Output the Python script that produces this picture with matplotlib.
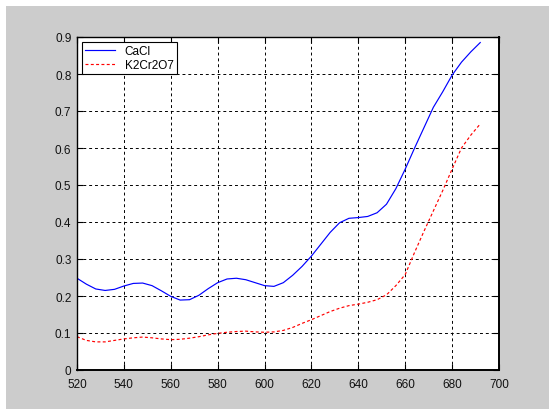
import matplotlib
matplotlib.use("Agg")
import matplotlib.pyplot as plt
from matplotlib.patches import Rectangle

plt.rcParams['font.family'] = ['Liberation Sans', 'DejaVu Sans']

# wavelength (nm)
wavelength = [520, 524, 528, 532, 536, 540, 544, 548, 552, 556, 560, 564, 568,
              572, 576, 580, 584, 588, 592, 596, 600, 604, 608, 612, 616, 620,
              624, 628, 632, 636, 640, 644, 648, 652, 656, 660, 664, 668, 672,
              676, 680, 684, 688, 692]

cacl = [0.248, 0.232, 0.219, 0.215, 0.218, 0.227, 0.234, 0.235, 0.228, 0.214,
        0.199, 0.189, 0.190, 0.202, 0.220, 0.236, 0.246, 0.248, 0.244, 0.236,
        0.228, 0.226, 0.236, 0.256, 0.280, 0.308, 0.340, 0.372, 0.398, 0.410,
        0.412, 0.415, 0.425, 0.448, 0.490, 0.543, 0.600, 0.655, 0.710, 0.752,
        0.797, 0.832, 0.860, 0.885]

k2cr2o7 = [0.090, 0.080, 0.076, 0.076, 0.080, 0.084, 0.087, 0.089, 0.087, 0.084,
           0.082, 0.083, 0.086, 0.090, 0.095, 0.099, 0.102, 0.104, 0.105, 0.103,
           0.102, 0.103, 0.107, 0.115, 0.126, 0.136, 0.147, 0.158, 0.167, 0.174,
           0.178, 0.183, 0.190, 0.203, 0.228, 0.258, 0.318, 0.375, 0.430, 0.485,
           0.543, 0.600, 0.635, 0.665]

fig = plt.figure(figsize=(5.49, 4.10), dpi=100, facecolor='white')
# gray matlab-like window area (white strip top/left)
fig.patches.append(Rectangle((6 / 549, 0), 1, (410 - 7) / 410, transform=fig.transFigure,
                             facecolor='#cccccc', edgecolor='none', zorder=-10))

ax = fig.add_axes([77 / 549, 39 / 410, (499 - 77) / 549, (371 - 38) / 410])
ax.set_facecolor('white')

ax.plot(wavelength, cacl, color='blue', lw=0.85, label='CaCl')
ax.plot(wavelength, k2cr2o7, color='red', lw=0.85, ls=(0, (2.5, 2)), label='K2Cr2O7')

ax.set_xlim(520, 700)
ax.set_ylim(0, 0.9)
ax.set_xticks(range(520, 701, 20))
ax.set_yticks([0, 0.1, 0.2, 0.3, 0.4, 0.5, 0.6, 0.7, 0.8, 0.9])
ax.set_yticklabels(['0', '0.1', '0.2', '0.3', '0.4', '0.5', '0.6', '0.7', '0.8', '0.9'])

ax.grid(True, color='black', ls=(0, (3, 3)), lw=0.7)
ax.tick_params(direction='in', length=4, width=0.8, top=True, right=True,
               labelsize=8.5, labelcolor='#111111')
ax.tick_params(axis='x', pad=6)
ax.tick_params(axis='y', pad=4)
for s in ax.spines.values():
    s.set_linewidth(1.0)
    s.set_color('black')
ax.spines['right'].set_linewidth(1.4)
ax.spines['bottom'].set_linewidth(1.4)

leg = ax.legend(loc='upper left', fancybox=False, framealpha=1, edgecolor='black',
                fontsize=8.5, borderaxespad=0.4, handlelength=2.6,
                borderpad=0.25, labelspacing=0.2)
leg.get_frame().set_linewidth(0.8)

fig.savefig('out.png', dpi=100, facecolor=fig.get_facecolor())
